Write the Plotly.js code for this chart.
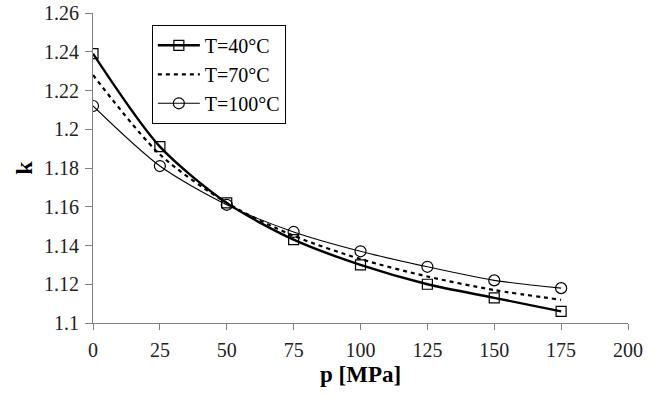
<!DOCTYPE html>
<html>
<head>
<meta charset="utf-8">
<script src="https://cdn.plot.ly/plotly-3.0.1.min.js"></script>
<style>html,body{margin:0;padding:0;background:#fff;}#chart{width:659px;height:396px;}</style>
</head>
<body>
<div id="chart"></div>
<script>
const pressure = [0, 25, 50, 75, 100, 125, 150, 175];
const k40 = [1.239, 1.191, 1.162, 1.143, 1.130, 1.120, 1.113, 1.106];
const k70 = [1.228, 1.187, 1.162, 1.145, 1.133, 1.124, 1.117, 1.112];
const k100 = [1.212, 1.181, 1.161, 1.147, 1.137, 1.129, 1.122, 1.118];
const seriesNames = ['T=40°C', 'T=70°C', 'T=100°C'];
const xTicks = [0, 25, 50, 75, 100, 125, 150, 175, 200];
const yTicks = [1.1, 1.12, 1.14, 1.16, 1.18, 1.2, 1.22, 1.24, 1.26];
const xTitle = 'p [MPa]';
const yTitle = 'k';

const font = 'Liberation Serif, Times New Roman, serif';
const traces = [
  {x: pressure, y: k40, name: seriesNames[0], mode: 'lines+markers',
   line: {color: '#000', width: 2.4, shape: 'spline', smoothing: 0.8},
   marker: {symbol: 'square-open', size: 10, color: '#000', line: {width: 1.2}}},
  {x: pressure, y: k70, name: seriesNames[1], mode: 'lines',
   line: {color: '#000', width: 2.2, dash: '4px,4px', shape: 'spline', smoothing: 0.8}},
  {x: pressure, y: k100, name: seriesNames[2], mode: 'lines+markers',
   line: {color: '#000', width: 1.1, shape: 'spline', smoothing: 0.8},
   marker: {symbol: 'circle-open', size: 11, color: '#000', line: {width: 1.2}}}
];
const layout = {
  width: 659, height: 396,
  margin: {l: 93, r: 31, t: 13, b: 73},
  paper_bgcolor: '#fff', plot_bgcolor: '#fff',
  font: {family: font, size: 20, color: '#000'},
  showlegend: true,
  legend: {x: 0.110, y: 0.962, xanchor: 'left', yanchor: 'top',
           bordercolor: '#000', borderwidth: 1, bgcolor: '#fff',
           font: {family: font, size: 20, color: '#000'}, tracegroupgap: 0, itemwidth: 42},
  xaxis: {range: [0, 200], tickvals: xTicks, ticktext: xTicks.map(String),
          showgrid: false, zeroline: false, showline: true, linecolor: '#808080', linewidth: 1,
          ticks: 'outside', ticklen: 6, tickcolor: '#808080', ticklabelstandoff: 3,
          tickfont: {family: font, size: 20, color: '#222'}},
  yaxis: {range: [1.1, 1.26], tickvals: yTicks, ticktext: yTicks.map(v => String(+v.toFixed(2))),
          showgrid: false, zeroline: false, showline: true, linecolor: '#808080', linewidth: 1,
          ticks: 'outside', ticklen: 7, tickcolor: '#808080', ticklabelstandoff: 2,
          tickfont: {family: font, size: 20, color: '#222'},
          title: {text: '<b>' + yTitle + '</b>', font: {family: font, size: 24, color: '#000'}, standoff: 4}},
  annotations: [
    {text: '<b>' + xTitle + '</b>', xref: 'paper', yref: 'paper', x: 0.5, y: -0.166,
     xanchor: 'center', yanchor: 'middle', showarrow: false,
     font: {family: font, size: 23, color: '#000'}}
  ]
};
Plotly.newPlot('chart', traces, layout, {displayModeBar: false, staticPlot: true});
</script>
</body>
</html>
